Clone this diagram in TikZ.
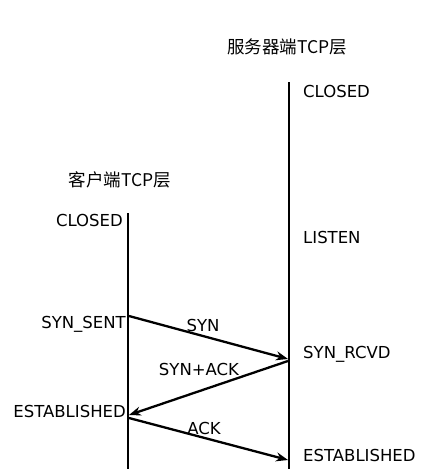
\documentclass[tikz,border=0pt]{standalone}
\usepackage{fontspec}
\setmainfont{DejaVu Sans}
\newfontfamily\cjk{Noto Sans CJK SC}
\usetikzlibrary{arrows.meta}
\begin{document}
\begin{tikzpicture}[x=1pt, y=-1pt, >={Stealth[length=12pt,width=9pt]},
		font=\fontsize{16.5}{18}\selectfont,
		life/.style={line width=2.6pt},
		msg/.style={->, line width=2.3pt},
		state/.style={inner sep=0pt},
		layer/.style={inner sep=0pt, font=\fontsize{17.5}{20}\selectfont\cjk}]
	\useasboundingbox (0,0) rectangle (425,469);
	% couches
	\node[layer] (srvtitle) at (287,47) {服务器端TCP层};
	\node[layer] (clititle) at (120,180) {客户端TCP层};
	% lignes de vie
	\coordinate (srvtop) at (289,82);
	\coordinate (srvbot) at (289,469);
	\coordinate (clitop) at (128,213);
	\coordinate (clibot) at (128,469);
	\draw[life] (srvtop) -- (srvbot);
	\draw[life] (clitop) -- (clibot);
	% états serveur
	\node[state, anchor=west] (sclosed) at (303,91) {CLOSED};
	\node[state, anchor=west] (listen) at (303,237) {LISTEN};
	\node[state, anchor=west] (rcvd) at (303,354) {SYN\_RCVD};
	\node[state, anchor=west] (sest) at (303,455) {ESTABLISHED};
	% états client
	\node[state, anchor=east] (cclosed) at (123,220) {CLOSED};
	\node[state, anchor=east] (sent) at (126,324) {SYN\_SENT};
	\node[state, anchor=east] (cest) at (126,411) {ESTABLISHED};
	% messages
	\coordinate (a1) at (129,316);
	\coordinate (b1) at (288,359);
	\coordinate (b2) at (288,361);
	\coordinate (a2) at (129,415);
	\coordinate (a3) at (129,418);
	\coordinate (b3) at (288,460);
	\draw[msg] (a1) -- (b1);
	\draw[msg] (b2) -- (a2);
	\draw[msg] (a3) -- (b3);
	\node[state] (syn) at (203,325) {SYN};
	\node[state] (synack) at (199,369) {SYN+ACK};
	\node[state] (ack) at (204,428) {ACK};
\end{tikzpicture}
\end{document}
